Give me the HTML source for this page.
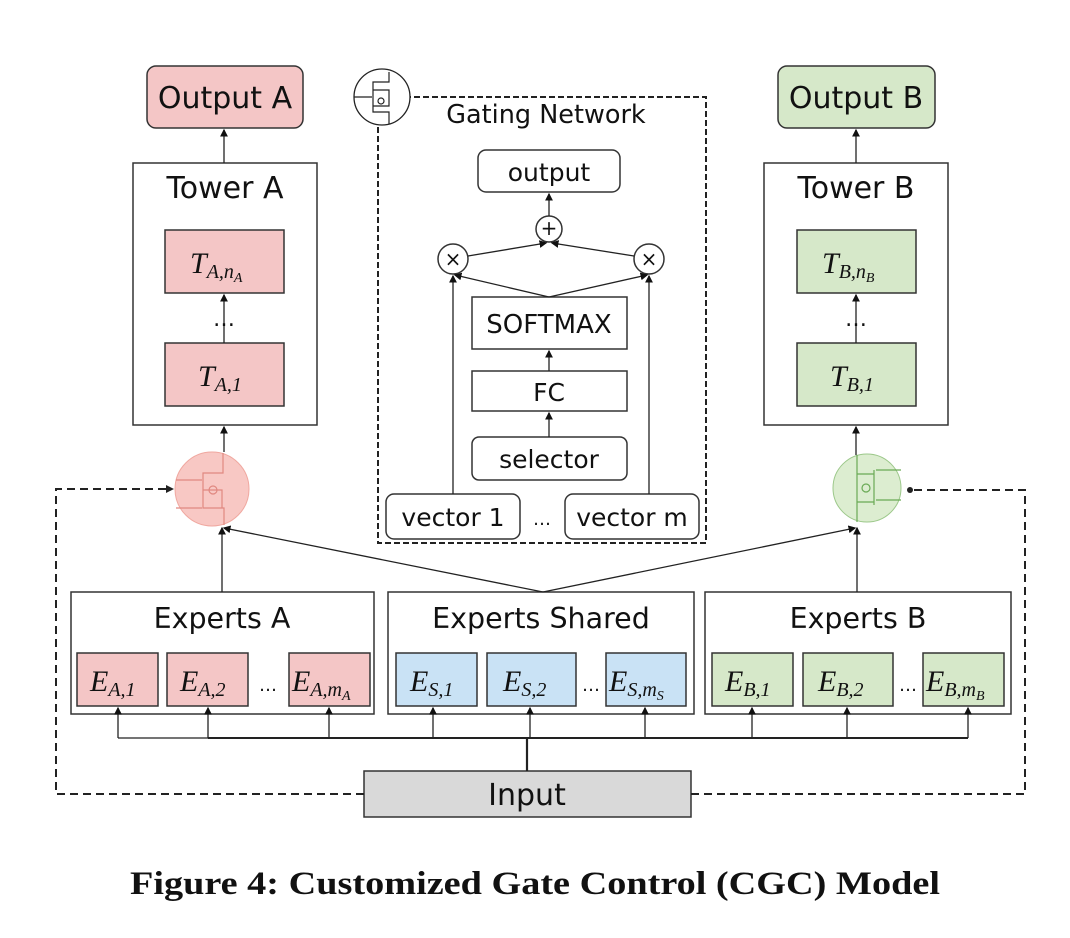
<!DOCTYPE html>
<html><head><meta charset="utf-8"><style>
html,body{margin:0;padding:0;background:#fff;}
svg{display:block;}
text{font-family:"DejaVu Sans","Liberation Sans",sans-serif;fill:#111;}
.m{font-family:"Liberation Serif",serif;font-style:italic;}
</style></head><body>
<svg width="1070" height="938" viewBox="0 0 1070 938" xmlns="http://www.w3.org/2000/svg">
<defs>
<marker id="a" markerWidth="6" markerHeight="6" refX="5" refY="3" orient="auto"><path d="M0,0 L6,3 L0,6 z" fill="#111"/></marker>
</defs>
<rect width="1070" height="938" fill="#fff"/>
<g stroke="#333" stroke-width="1.5" fill="none">
<rect x="147" y="66" width="156" height="62" rx="9" fill="#f4c6c6"/>
<rect x="778" y="66" width="157" height="62" rx="9" fill="#d6e8c9"/>
<rect x="133" y="163" width="184" height="262" fill="#fff"/>
<rect x="764" y="163" width="184" height="262" fill="#fff"/>
<rect x="165" y="230" width="119" height="63" fill="#f4c6c6"/>
<rect x="165" y="343" width="119" height="63" fill="#f4c6c6"/>
<rect x="797" y="230" width="119" height="63" fill="#d6e8c9"/>
<rect x="797" y="343" width="119" height="63" fill="#d6e8c9"/>
<rect x="71" y="592" width="303" height="122" fill="#fff"/>
<rect x="388" y="592" width="306" height="122" fill="#fff"/>
<rect x="705" y="592" width="306" height="122" fill="#fff"/>
<rect x="77" y="653" width="81" height="53" fill="#f4c6c6"/>
<rect x="167" y="653" width="81" height="53" fill="#f4c6c6"/>
<rect x="289" y="653" width="81" height="53" fill="#f4c6c6"/>
<rect x="396" y="653" width="81" height="53" fill="#c9e2f5"/>
<rect x="487" y="653" width="89" height="53" fill="#c9e2f5"/>
<rect x="606" y="653" width="80" height="53" fill="#c9e2f5"/>
<rect x="712" y="653" width="81" height="53" fill="#d6e8c9"/>
<rect x="803" y="653" width="90" height="53" fill="#d6e8c9"/>
<rect x="923" y="653" width="81" height="53" fill="#d6e8c9"/>
<rect x="364" y="771" width="327" height="46" fill="#d9d9d9"/>
<rect x="378" y="97" width="328" height="446" stroke="#222" stroke-width="2" stroke-dasharray="6,3"/>
<rect x="478" y="150" width="142" height="42" rx="8" fill="#fff"/>
<rect x="472" y="297" width="155" height="52" fill="#fff"/>
<rect x="472" y="371" width="155" height="40" fill="#fff"/>
<rect x="472" y="437" width="155" height="43" rx="7" fill="#fff"/>
<rect x="386" y="494" width="134" height="45" rx="8" fill="#fff"/>
<rect x="565" y="494" width="134" height="45" rx="8" fill="#fff"/>
<circle cx="549" cy="229" r="13" fill="#fff"/>
<circle cx="453" cy="259" r="15" fill="#fff"/>
<circle cx="649" cy="259" r="15" fill="#fff"/>
</g>
<g stroke="#222" stroke-width="1.3" fill="none" marker-end="url(#a)">
<line x1="224" y1="163" x2="224" y2="130"/>
<line x1="856" y1="163" x2="856" y2="130"/>
<line x1="224" y1="343" x2="224" y2="295"/>
<line x1="856" y1="343" x2="856" y2="295"/>
<line x1="224" y1="452" x2="224" y2="427"/>
<line x1="856" y1="455" x2="856" y2="427"/>
<line x1="222" y1="592" x2="222" y2="528"/>
<line x1="857" y1="592" x2="857" y2="528"/>
<line x1="543" y1="592" x2="224" y2="528"/>
<line x1="543" y1="592" x2="855" y2="528"/>
<line x1="549" y1="216" x2="549" y2="194"/>
<line x1="468" y1="256" x2="546" y2="243"/>
<line x1="634" y1="256" x2="552" y2="243"/>
<line x1="549" y1="297" x2="455" y2="275"/>
<line x1="549" y1="297" x2="647" y2="275"/>
<line x1="453" y1="494" x2="453" y2="276"/>
<line x1="649" y1="494" x2="649" y2="276"/>
<line x1="549" y1="371" x2="549" y2="351"/>
<line x1="549" y1="437" x2="549" y2="413"/>
</g>
<g stroke="#222" stroke-width="1.3" fill="none">
<line x1="527" y1="771" x2="527" y2="738" stroke-width="2.2"/>
<line x1="118" y1="738" x2="968" y2="738"/>
<line x1="208" y1="738" x2="968" y2="738" stroke-width="2"/>
</g>
<g stroke="#222" stroke-width="1.3" marker-end="url(#a)">
<line x1="118" y1="738" x2="118" y2="708"/>
<line x1="208" y1="738" x2="208" y2="708"/>
<line x1="329" y1="738" x2="329" y2="708"/>
<line x1="433" y1="738" x2="433" y2="708"/>
<line x1="530" y1="738" x2="530" y2="708"/>
<line x1="645" y1="738" x2="645" y2="708"/>
<line x1="752" y1="738" x2="752" y2="708"/>
<line x1="847" y1="738" x2="847" y2="708"/>
<line x1="968" y1="738" x2="968" y2="708"/>
</g>
<g stroke="#222" stroke-width="2" fill="none" stroke-dasharray="8,5">
<polyline points="364,794 56,794 56,489 170,489"/>
<polyline points="691,794 1025,794 1025,490 912,490"/>
</g>
<path d="M166,485 L174,489 L166,493z" fill="#222"/>
<circle cx="910" cy="490" r="3" fill="#222"/>
<circle cx="212" cy="489" r="37" fill="#f8c8c4" stroke="#f0a8a0" stroke-width="1"/>
<g stroke="#e08880" stroke-width="1.2" fill="none">
<path d="M223,453 L223,473 L203,473 L203,508 L224,508 L224,525"/>
<path d="M176,480 L202,480 M176,508 L202,508 M203,490 L222,490 L222,508"/>
<circle cx="213" cy="490" r="4"/>
</g>
<circle cx="867" cy="488" r="34" fill="#dcedd0" stroke="#9cc88a" stroke-width="1"/>
<g stroke="#6aaa55" stroke-width="1.2" fill="none">
<path d="M857,455 L857,474 L874,474 M857,474 L857,502 M874,470 L874,505 M876,470 L901,470 M876,500 L901,500 M857,502 L874,502 M857,502 L857,522"/>
<circle cx="866" cy="488" r="4"/>
</g>
<circle cx="382" cy="97" r="28" fill="#fff" stroke="#222" stroke-width="1.3"/>
<g stroke="#222" stroke-width="1.2" fill="none">
<path d="M389,72 L389,82 L373,82 L373,112 L389,112 L389,124 M354,97 L372,97 M373,90 L389,90 L389,106 L373,106"/>
<circle cx="381" cy="101" r="3"/>
</g>
<g text-anchor="middle">
<text x="225" y="108" font-size="30">Output A</text>
<text x="856" y="108" font-size="30">Output B</text>
<text x="225" y="198" font-size="30">Tower A</text>
<text x="856" y="198" font-size="30">Tower B</text>
<text x="224" y="326" font-size="22">…</text>
<text x="856" y="326" font-size="22">…</text>
<text x="546" y="123" font-size="25.5">Gating Network</text>
<text x="549" y="181" font-size="25">output</text>
<text x="549" y="235" font-size="20">+</text>
<text x="453" y="266" font-size="20">×</text>
<text x="649" y="266" font-size="20">×</text>
<text x="549" y="333" font-size="26">SOFTMAX</text>
<text x="549" y="401" font-size="25">FC</text>
<text x="549" y="468" font-size="25">selector</text>
<text x="453" y="526" font-size="25">vector 1</text>
<text x="632" y="526" font-size="25">vector m</text>
<text x="542" y="525" font-size="18">…</text>
<text x="222" y="628" font-size="28.5">Experts A</text>
<text x="541" y="628" font-size="28.5">Experts Shared</text>
<text x="858" y="628" font-size="28.5">Experts B</text>
<text x="268" y="691" font-size="18">…</text>
<text x="591" y="691" font-size="18">…</text>
<text x="908" y="691" font-size="18">…</text>
<text x="527" y="805" font-size="30">Input</text>
</g>
<text x="130" y="894" font-size="33" font-weight="bold" textLength="810" lengthAdjust="spacingAndGlyphs" style="font-family:'Liberation Serif',serif">Figure 4: Customized Gate Control (CGC) Model</text>
<g class="m" font-size="30">
<text x="190" y="273" class="m">T<tspan font-size="20" dy="5">A,n</tspan><tspan font-size="14" dy="4">A</tspan></text>
<text x="198" y="386" class="m">T<tspan font-size="20" dy="5">A,1</tspan></text>
<text x="822" y="273" class="m">T<tspan font-size="20" dy="5">B,n</tspan><tspan font-size="14" dy="4">B</tspan></text>
<text x="830" y="386" class="m">T<tspan font-size="20" dy="5">B,1</tspan></text>
<text x="90" y="691" class="m">E<tspan font-size="20" dy="5">A,1</tspan></text>
<text x="180" y="691" class="m">E<tspan font-size="20" dy="5">A,2</tspan></text>
<text x="292" y="691" class="m">E<tspan font-size="20" dy="5">A,m</tspan><tspan font-size="14" dy="4">A</tspan></text>
<text x="410" y="691" class="m">E<tspan font-size="20" dy="5">S,1</tspan></text>
<text x="503" y="691" class="m">E<tspan font-size="20" dy="5">S,2</tspan></text>
<text x="609" y="691" class="m">E<tspan font-size="20" dy="5">S,m</tspan><tspan font-size="14" dy="4">S</tspan></text>
<text x="725" y="691" class="m">E<tspan font-size="20" dy="5">B,1</tspan></text>
<text x="818" y="691" class="m">E<tspan font-size="20" dy="5">B,2</tspan></text>
<text x="926" y="691" class="m">E<tspan font-size="20" dy="5">B,m</tspan><tspan font-size="14" dy="4">B</tspan></text>
</g>
</svg>
</body></html>
